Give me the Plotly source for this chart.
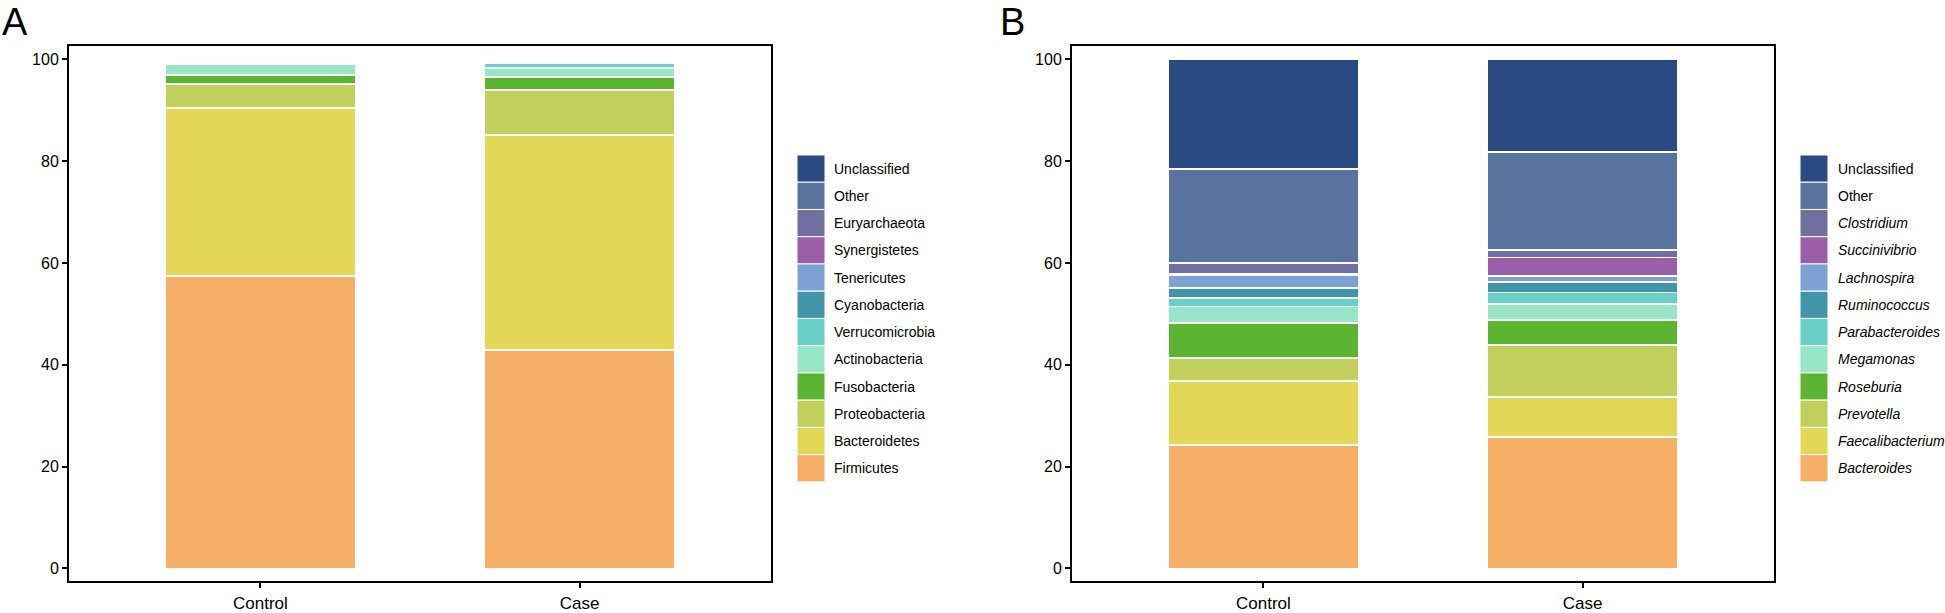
import plotly.graph_objects as go

W, H = 1945, 613

groups = ["Control", "Case"]

# panel A: phylum level, stacked bottom to top
phyla = ["Firmicutes", "Bacteroidetes", "Proteobacteria", "Fusobacteria",
         "Actinobacteria", "Verrucomicrobia", "Cyanobacteria", "Tenericutes",
         "Synergistetes", "Euryarchaeota", "Other", "Unclassified"]
control_phylum = [57.5, 33.0, 4.6, 1.85, 2.15, 0, 0, 0, 0, 0, 0, 0]
case_phylum = [42.9, 42.2, 8.95, 2.5, 1.75, 1.0, 0, 0, 0, 0, 0, 0]

# panel B: genus level, stacked bottom to top
genera = ["Bacteroides", "Faecalibacterium", "Prevotella", "Roseburia",
          "Megamonas", "Parabacteroides", "Ruminococcus", "Lachnospira",
          "Succinivibrio", "Clostridium", "Other", "Unclassified"]
control_genus = [24.2, 12.7, 4.4, 6.9, 3.25, 1.65, 1.95, 2.65, 0.15, 2.1, 18.5, 21.55]
case_genus = [25.8, 7.9, 10.15, 4.95, 3.1, 2.3, 2.1, 1.1, 3.7, 1.4, 19.25, 18.25]

colors = ["#F5AF66", "#E4D757", "#C1CF5C", "#5BB532", "#98E5C8", "#69D0C8",
          "#4295A8", "#7EA1D4", "#9A5FA8", "#716EA0", "#58739E", "#2B4A82"]

FONT = "Liberation Sans, Arial, Helvetica, sans-serif"


def px_x(v):
    return v / W


def px_y(v):
    return 1 - v / H


fig = go.Figure()

for i, name in enumerate(phyla):
    fig.add_trace(go.Bar(
        x=groups, y=[control_phylum[i], case_phylum[i]], name=name,
        marker=dict(color=colors[i], line=dict(color="white", width=1.8)),
        width=0.6, xaxis="x", yaxis="y", showlegend=False))

for i, name in enumerate(genera):
    fig.add_trace(go.Bar(
        x=groups, y=[control_genus[i], case_genus[i]], name=name,
        marker=dict(color=colors[i], line=dict(color="white", width=1.8)),
        width=0.6, xaxis="x2", yaxis="y2", showlegend=False))

axis_style = dict(showline=True, linecolor="black", linewidth=2, mirror=True,
                  ticks="outside", ticklen=5, tickwidth=1.5, tickcolor="black",
                  showgrid=False, zeroline=False)
y_dom = [px_y(585), px_y(46)]

fig.update_layout(
    width=W, height=H, margin=dict(l=0, r=0, t=0, b=0),
    plot_bgcolor="white", paper_bgcolor="white", barmode="stack",
    font=dict(family=FONT, color="black"),
    xaxis=dict(domain=[px_x(69), px_x(771)], range=[-0.6, 1.6],
               tickfont=dict(size=17), anchor="y", **axis_style),
    yaxis=dict(domain=y_dom, range=[-2.5, 102.7], tickvals=[0, 20, 40, 60, 80, 100],
               tickfont=dict(size=16), anchor="x", **axis_style),
    xaxis2=dict(domain=[px_x(1072), px_x(1774)], range=[-0.6, 1.6],
                tickfont=dict(size=17), anchor="y2", **axis_style),
    yaxis2=dict(domain=y_dom, range=[-2.5, 102.7], tickvals=[0, 20, 40, 60, 80, 100],
                tickfont=dict(size=16), anchor="x2", **axis_style),
)

# legends drawn as key boxes, top entry = last stacked series
key_top, key_h = 156, 27.42
for key_x, text_x, names, italic in [(797, 832, phyla, False), (1800, 1836, genera, True)]:
    for j, name in enumerate(reversed(names)):
        idx = len(names) - 1 - j
        y0 = key_top + j * key_h
        fig.add_shape(type="rect", xref="paper", yref="paper",
                      x0=px_x(key_x), x1=px_x(key_x + 28),
                      y0=px_y(y0 + key_h), y1=px_y(y0),
                      fillcolor=colors[idx], line=dict(color="white", width=1))
        label = name
        if italic and name not in ("Other", "Unclassified"):
            label = f"<i>{name}</i>"
        fig.add_annotation(x=px_x(text_x), y=px_y(y0 + key_h / 2), xref="paper",
                           yref="paper", text=label, showarrow=False,
                           xanchor="left", yanchor="middle",
                           font=dict(size=14, family=FONT, color="black"))

for letter, lx in [("A", 0), ("B", 998)]:
    fig.add_annotation(x=px_x(lx), y=px_y(22), xref="paper", yref="paper",
                       text=letter, showarrow=False, xanchor="left", yanchor="middle",
                       font=dict(size=38, family=FONT, color="black"))

# drop the default page margin so the figure sits at the window's corner
fig.write_html("out.html", config={"displayModeBar": False},
               post_script="document.body.style.margin='0';")
